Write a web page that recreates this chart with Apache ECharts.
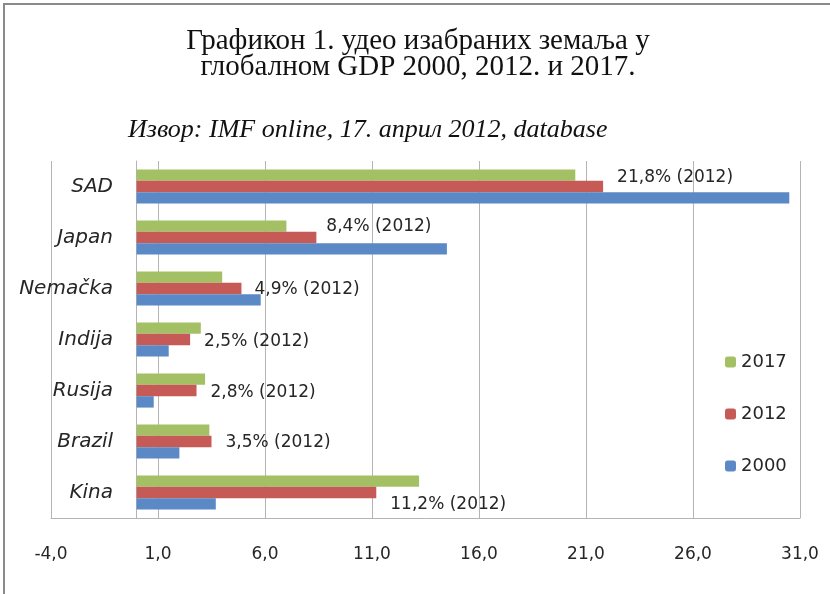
<!DOCTYPE html>
<html>
<head>
<meta charset="utf-8">
<script src="https://cdn.jsdelivr.net/npm/echarts@6/dist/echarts.min.js"></script>
<style>
  html, body { margin: 0; padding: 0; background: #fff; }
  #chart { width: 830px; height: 594px; }
</style>
</head>
<body>
<div id="chart"></div>
<script>
// categories listed bottom to top (ECharts draws the first category at the bottom)
const countries = ["Kina", "Brazil", "Rusija", "Indija", "Nemačka", "Japan", "SAD"];
const values2000 = [3.7, 2.0, 0.8, 1.5, 5.8, 14.5, 30.5];
const values2012 = [11.2, 3.5, 2.8, 2.5, 4.9, 8.4, 21.8];
const values2017 = [13.2, 3.4, 3.2, 3.0, 4.0, 7.0, 20.5];
const xTicks = [-4, 1, 6, 11, 16, 21, 26, 31];

// manual nudges of the 2012 labels, as placed in the original
const labelShift = {
  Kina: [0, 12], Brazil: [0, 1], Rusija: [0, 2], Indija: [0, 2],
  "Nemačka": [-1, 1], Japan: [-4, -11], SAD: [0, -9]
};

const chart = echarts.init(document.getElementById("chart"));

const fmt = v => v.toFixed(1).replace(".", ",");
const gridColor = "#b4b4b4";
const textColor = "#262626";

const data2012 = values2012.map((v, i) => ({
  value: v,
  label: { offset: labelShift[countries[i]] }
}));

chart.setOption({
  animation: false,
  title: [
    {
      text: "Графикон 1. удео изабраних земаља у\nглобалном GDP 2000, 2012. и 2017.",
      left: 413,
      top: 23,
      textAlign: "center",
      textStyle: {
        fontFamily: "Liberation Serif",
        fontWeight: "normal",
        fontSize: 29,
        lineHeight: 26,
        color: "#111"
      }
    },
    {
      text: "Извор: IMF online, 17. април 2012, database",
      left: 123,
      top: 112,
      textStyle: {
        fontFamily: "Liberation Serif",
        fontStyle: "italic",
        fontWeight: "normal",
        fontSize: 26,
        color: "#111"
      }
    }
  ],
  graphic: [
    {
      type: "rect",
      shape: { x: 4, y: 4, width: 900, height: 700 },
      style: { fill: "none", stroke: "#8a8a8a", lineWidth: 2 }
    }
  ],
  legend: {
    orient: "vertical",
    left: 720,
    top: 348,
    itemWidth: 11,
    itemHeight: 11,
    itemGap: 34,
    data: ["2017", "2012", "2000"],
    textStyle: { fontFamily: "DejaVu Sans", fontSize: 18, color: textColor }
  },
  grid: { left: 51, right: 30, top: 161, bottom: 76, outerBoundsMode: "none", containLabel: false },
  xAxis: {
    type: "value",
    min: -4,
    max: 31,
    axisLine: { show: true, lineStyle: { color: gridColor } },
    axisTick: { show: false, customValues: xTicks },
    splitLine: { show: true, lineStyle: { color: gridColor } },
    axisLabel: {
      customValues: xTicks,
      formatter: fmt,
      margin: 28,
      fontFamily: "DejaVu Sans",
      fontSize: 17,
      color: textColor
    }
  },
  yAxis: {
    type: "category",
    data: countries,
    axisLine: { show: true, onZero: true, lineStyle: { color: gridColor } },
    axisTick: { show: false },
    axisLabel: {
      margin: -62,
      fontFamily: "DejaVu Sans",
      fontStyle: "italic",
      fontSize: 20,
      color: textColor
    }
  },
  series: [
    {
      name: "2017",
      type: "bar",
      data: values2017,
      barGap: "0%",
      barCategoryGap: "33%",
      itemStyle: { color: "#a3c164" }
    },
    {
      name: "2012",
      type: "bar",
      data: data2012,
      barGap: "0%",
      barCategoryGap: "33%",
      itemStyle: { color: "#c55a57" },
      label: {
        show: true,
        position: "right",
        distance: 14,
        fontFamily: "DejaVu Sans",
        fontSize: 17,
        color: textColor,
        formatter: p => fmt(p.value) + "% (2012)"
      }
    },
    {
      name: "2000",
      type: "bar",
      data: values2000,
      barGap: "0%",
      barCategoryGap: "33%",
      itemStyle: { color: "#5a89c5" }
    }
  ]
});
</script>
</body>
</html>
